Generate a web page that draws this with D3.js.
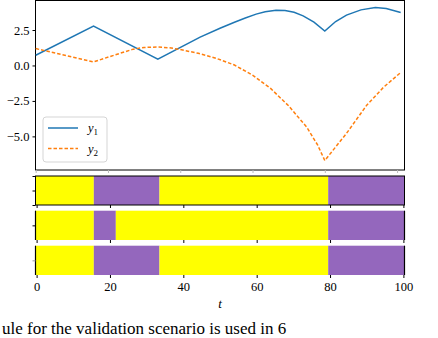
<!DOCTYPE html>
<html>
<head>
<meta charset="utf-8">
<script src="https://cdn.jsdelivr.net/npm/d3@7"></script>
<style>
  body { margin: 0; background: #fff; }
  svg { display: block; }
  text { font-family: "Liberation Serif", "DejaVu Serif", serif; }
</style>
</head>
<body>
<div id="chart"></div>
<script>
// top plot: two signals over t
var y1T = [0, 16, 33.8, 45.5, 51, 55, 58, 61, 63.5, 66.5, 69, 71.5, 74, 77, 80, 83, 86, 90, 94, 97, 101];
var y1V = [0.72, 2.78, 0.44, 2.0, 2.62, 3.05, 3.35, 3.62, 3.78, 3.9, 3.88, 3.75, 3.5, 3.05, 2.43, 3.1, 3.55, 3.92, 4.08, 4.02, 3.74];
var y2T = [0, 16, 22, 27, 30, 33.5, 37, 40, 45, 50, 55, 60, 65, 70, 75, 78, 80, 86, 91.6, 96.2, 101];
var y2V = [1.19, 0.25, 0.75, 1.15, 1.27, 1.3, 1.25, 1.12, 0.86, 0.5, 0.03, -0.68, -1.62, -2.85, -4.35, -5.6, -6.7, -4.79, -2.8, -1.55, -0.5];
var yTicks = [2.5, 0, -2.5, -5];
var xTicks = [0, 20, 40, 60, 80, 100];

// bottom strips: mode switching, edges in t and mode of each segment
var stripEdges = [
    [0, 15.6, 33.5, 79.5, 100],
    [0, 15.6, 21.6, 79.5, 100],
    [0, 15.6, 33.5, 79.5, 100]
];
var stripModes = [
    [0, 1, 0, 1],
    [0, 1, 0, 1],
    [0, 1, 0, 1]
];
var modeColors = ['#ffff00', '#9467bd'];

var width = 438, height = 338;

var svg = d3.select('#chart')
    .append('svg')
    .attr('width', width)
    .attr('height', height);

// Scales
var xTop = d3.scaleLinear().domain([0, 102]).range([35.7, 404.3]);
var yTop = d3.scaleLinear().domain([-7.37, 4.58]).range([170, 0.5]);
var xBot = d3.scaleLinear().domain([-0.3, 100.3]).range([35.5, 404.5]);

// top plot frame
svg.append('rect')
    .attr('x', 35.5).attr('y', 0.5)
    .attr('width', 369).attr('height', 169.5)
    .attr('fill', 'none')
    .attr('stroke', '#000')
    .attr('stroke-width', 1);

// x ticks under top plot (no labels)
var xAxisTop = svg.append('g')
    .attr('transform', 'translate(0,170)')
    .call(d3.axisBottom(xTop).tickValues(xTicks).tickSize(3).tickFormat(''));
xAxisTop.select('.domain').remove();
xAxisTop.selectAll('line').attr('stroke', '#bbb');

// y axis
var yAxis = svg.append('g')
    .attr('transform', 'translate(35.5,0)')
    .call(d3.axisLeft(yTop).tickValues(yTicks).tickSize(3).tickPadding(3)
        .tickFormat(function (d) { return d3.format('.1f')(d).replace('-', '\u2212'); }));
yAxis.select('.domain').remove();
yAxis.selectAll('line').attr('stroke', '#000');
yAxis.selectAll('text')
    .attr('fill', '#000')
    .style('font-size', '12.5px')
    .style('font-family', '"Liberation Serif", serif');

// lines
var line = d3.line()
    .x(function (d) { return xTop(d[0]); })
    .y(function (d) { return yTop(d[1]); });

svg.append('path')
    .datum(d3.zip(y1T, y1V))
    .attr('d', line)
    .attr('fill', 'none')
    .attr('stroke', '#1f77b4')
    .attr('stroke-width', 1.5);

svg.append('path')
    .datum(d3.zip(y2T, y2V))
    .attr('d', line)
    .attr('fill', 'none')
    .attr('stroke', '#ff7f0e')
    .attr('stroke-width', 1.5)
    .attr('stroke-dasharray', '3.5,2');

// legend
var legend = svg.append('g').attr('transform', 'translate(43,117)');
legend.append('rect')
    .attr('width', 64).attr('height', 45)
    .attr('rx', 3)
    .attr('fill', '#fff')
    .attr('fill-opacity', 0.8)
    .attr('stroke', '#d5d5d5')
    .attr('stroke-width', 1);

var legendItems = [
    {name: 'y', sub: '1', color: '#1f77b4', dash: null},
    {name: 'y', sub: '2', color: '#ff7f0e', dash: '3.5,2'}
];
var item = legend.selectAll('.item')
    .data(legendItems)
    .enter().append('g')
    .attr('class', 'item')
    .attr('transform', function (d, i) { return 'translate(0,' + (11 + i * 20.5) + ')'; });
item.append('line')
    .attr('x1', 5).attr('x2', 35)
    .attr('stroke', function (d) { return d.color; })
    .attr('stroke-width', 1.5)
    .attr('stroke-dasharray', function (d) { return d.dash; });
var lt = item.append('text')
    .attr('x', 45).attr('y', 4)
    .style('font-size', '12.5px');
lt.append('tspan').style('font-style', 'italic').text(function (d) { return d.name; });
lt.append('tspan').attr('dy', 3).style('font-size', '9px').text(function (d) { return d.sub; });

// bottom strips
var strips = [[176, 205], [210.7, 240], [245.7, 275]];

strips.forEach(function (s, k) {
    var top = s[0], bot = s[1];
    var edges = stripEdges[k].slice();
    edges[0] = xBot.domain()[0];
    edges[edges.length - 1] = xBot.domain()[1];
    var segs = stripModes[k].map(function (m, i) {
        return {x0: edges[i], x1: edges[i + 1], mode: m};
    });
    var g = svg.append('g');
    g.selectAll('rect')
        .data(segs)
        .enter().append('rect')
        .attr('x', function (d) { return xBot(d.x0); })
        .attr('width', function (d) { return xBot(d.x1) - xBot(d.x0); })
        .attr('y', top)
        .attr('height', bot - top)
        .attr('fill', function (d) { return modeColors[d.mode]; });

    // frame: first strip boxed, the others only sides
    var r = xBot.range();
    if (k === 0) {
        g.append('rect')
            .attr('x', r[0]).attr('y', top)
            .attr('width', r[1] - r[0]).attr('height', bot - top)
            .attr('fill', 'none').attr('stroke', '#000').attr('stroke-width', 1);
    } else {
        g.selectAll('.side')
            .data(r)
            .enter().append('line')
            .attr('x1', function (d) { return d; }).attr('x2', function (d) { return d; })
            .attr('y1', top).attr('y2', bot)
            .attr('stroke', '#000').attr('stroke-width', 1.2);
    }

    // left ticks
    var yS = d3.scaleLinear().domain([-0.5, 0.5]).range([bot, top]);
    var yt = svg.append('g')
        .attr('transform', 'translate(' + r[0] + ',0)')
        .call(d3.axisLeft(yS).tickValues(k === 0 ? [-0.5, 0, 0.5] : [0]).tickSize(3).tickFormat(''));
    yt.select('.domain').remove();
    yt.selectAll('line').attr('stroke', k === 2 ? '#999' : '#000');

    // bottom ticks
    var xa = svg.append('g')
        .attr('transform', 'translate(0,' + bot + ')')
        .call(d3.axisBottom(xBot).tickValues(xTicks).tickSize(3).tickPadding(4)
            .tickFormat(k === 2 ? d3.format('d') : ''));
    xa.select('.domain').remove();
    xa.selectAll('line').attr('stroke', '#000');
    xa.selectAll('text')
        .attr('fill', '#000')
        .style('font-size', '12.5px')
        .style('font-family', '"Liberation Serif", serif');
});

// x label
svg.append('text')
    .attr('x', xBot(50))
    .attr('y', 308)
    .attr('text-anchor', 'middle')
    .style('font-style', 'italic')
    .style('font-size', '13px')
    .text('t');

// caption line below figure, at the bottom edge as in the source
svg.append('text')
    .attr('x', 2)
    .attr('y', 334)
    .style('font-size', '17px')
    .text('ule for the validation scenario is used in 6');
</script>
</body>
</html>
